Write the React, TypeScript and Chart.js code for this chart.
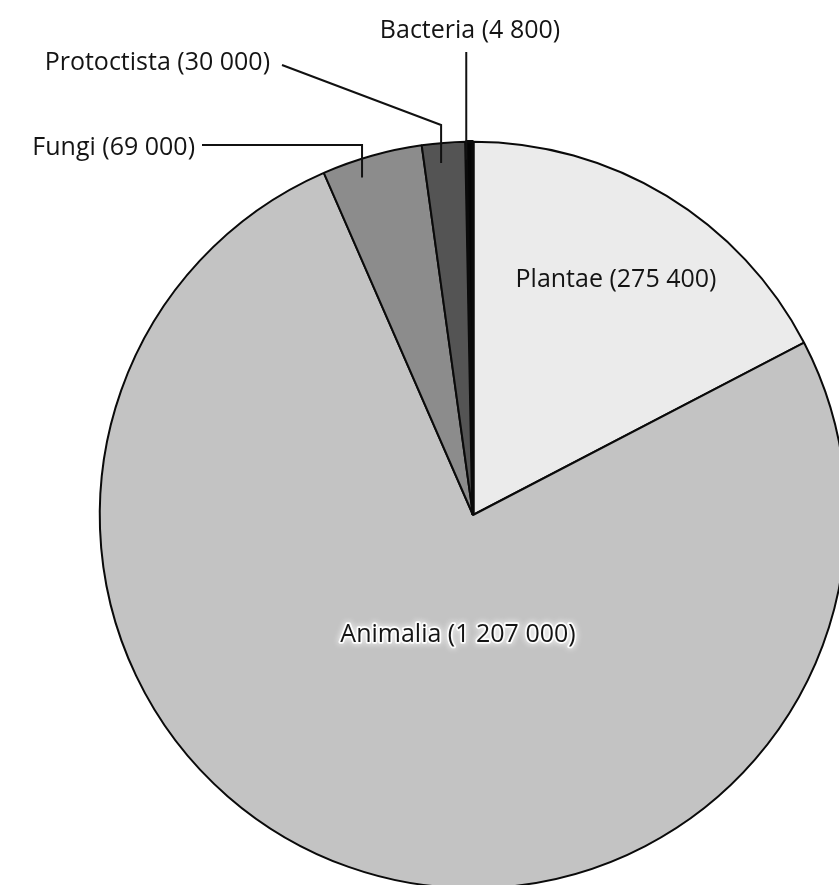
import React, { useEffect, useRef } from "react";
import { Chart, registerables } from "chart.js";

Chart.register(...registerables);

// ---- data ----
const categories = ["Plantae", "Animalia", "Fungi", "Protoctista", "Bacteria"];
const speciesCounts = [275400, 1207000, 69000, 30000, 4800];
const valueLabels = ["275 400", "1 207 000", "69 000", "30 000", "4 800"];
const sliceColors = ["#ebebeb", "#c3c3c3", "#8c8c8c", "#545454", "#050505"];
const sliceBorderWidths = [2, 2, 2, 2, 3.5];

// ---- label layout (offsets from pie centre, px) ----
type InsideLabel = { index: number; dx: number; dy: number; halo: boolean };
const insideLabels: InsideLabel[] = [
  { index: 0, dx: 143, dy: -228, halo: false },
  { index: 1, dx: -15, dy: 127, halo: true },
];

type OutsideLabel = {
  index: number;
  align: CanvasTextAlign;
  tx: number; // text anchor x offset
  ty: number; // baseline offset
  path: [number, number][]; // leader-line points before the drop into the slice
  frac: number; // where in the slice the leader drops
  depth: number; // how far inside the rim it ends
};
const outsideLabels: OutsideLabel[] = [
  { index: 2, align: "right", tx: -278, ty: -360, path: [[-271, -370], [-1, -370]], frac: 0.4, depth: 19 },
  { index: 3, align: "right", tx: -203, ty: -445, path: [[-191, -450], [-1, -390]], frac: 0.44, depth: 20 },
  { index: 4, align: "center", tx: -3, ty: -477, path: [[-1, -463]], frac: 0.05, depth: 18 },
];

const FONT = '25px "Open Sans"';

const labelPlugin = {
  id: "sliceLabels",
  afterDatasetsDraw(chart: any) {
    const meta = chart.getDatasetMeta(0);
    const first = meta.data[0] as any;
    const cx = first.x;
    const cy = first.y;
    const r = first.outerRadius;
    const ctx: CanvasRenderingContext2D = chart.ctx;
    ctx.save();
    ctx.font = FONT;
    ctx.textBaseline = "alphabetic";

    const text = (i: number) => `${categories[i]} (${valueLabels[i]})`;

    // inside labels
    for (const l of insideLabels) {
      const x = cx + l.dx;
      const y = cy + l.dy;
      ctx.textAlign = "center";
      if (l.halo) {
        ctx.save();
        ctx.shadowColor = "rgba(255,255,255,1)";
        ctx.shadowBlur = 6;
        ctx.strokeStyle = "rgba(255,255,255,0.9)";
        ctx.lineWidth = 3.5;
        ctx.lineJoin = "round";
        ctx.strokeText(text(l.index), x, y);
        ctx.restore();
      }
      ctx.fillStyle = "#141414";
      ctx.fillText(text(l.index), x, y);
    }

    // outside labels with leader lines
    for (const l of outsideLabels) {
      const arc = meta.data[l.index] as any;
      const ang = arc.startAngle + l.frac * (arc.endAngle - arc.startAngle);
      const dropX = cx + r * Math.cos(ang);
      const rimY = cy + r * Math.sin(ang);
      ctx.strokeStyle = "#111";
      ctx.lineWidth = 2;
      ctx.beginPath();
      l.path.forEach(([px, py], k) => {
        const x = px === -1 ? dropX : cx + px;
        const y = cy + py;
        if (k === 0) ctx.moveTo(x, y);
        else ctx.lineTo(x, y);
      });
      ctx.lineTo(dropX, rimY + l.depth);
      ctx.stroke();

      ctx.textAlign = l.align;
      ctx.fillStyle = "#141414";
      ctx.fillText(text(l.index), cx + l.tx, cy + l.ty);
    }
    ctx.restore();
  },
};

export default function App() {
  const ref = useRef<HTMLCanvasElement | null>(null);

  useEffect(() => {
    if (!ref.current) return;
    const chart = new Chart(ref.current, {
      type: "pie",
      data: {
        labels: categories,
        datasets: [
          {
            data: speciesCounts,
            backgroundColor: sliceColors,
            borderColor: "#0a0a0a",
            borderWidth: sliceBorderWidths,
          },
        ],
      },
      options: {
        responsive: false,
        animation: false,
        devicePixelRatio: 1,
        layout: { padding: { left: 98, top: 140, right: 12, bottom: 10 } },
        plugins: {
          legend: { display: false },
          tooltip: { enabled: false },
        },
      },
      plugins: [labelPlugin],
    });
    return () => chart.destroy();
  }, []);

  return (
    <div
      style={{
        position: "fixed",
        left: 0,
        top: 0,
        width: 839,
        height: 885,
        overflow: "hidden",
        background: "#ffffff",
      }}
    >
      <canvas ref={ref} width={860} height={900} style={{ display: "block" }} />
    </div>
  );
}
